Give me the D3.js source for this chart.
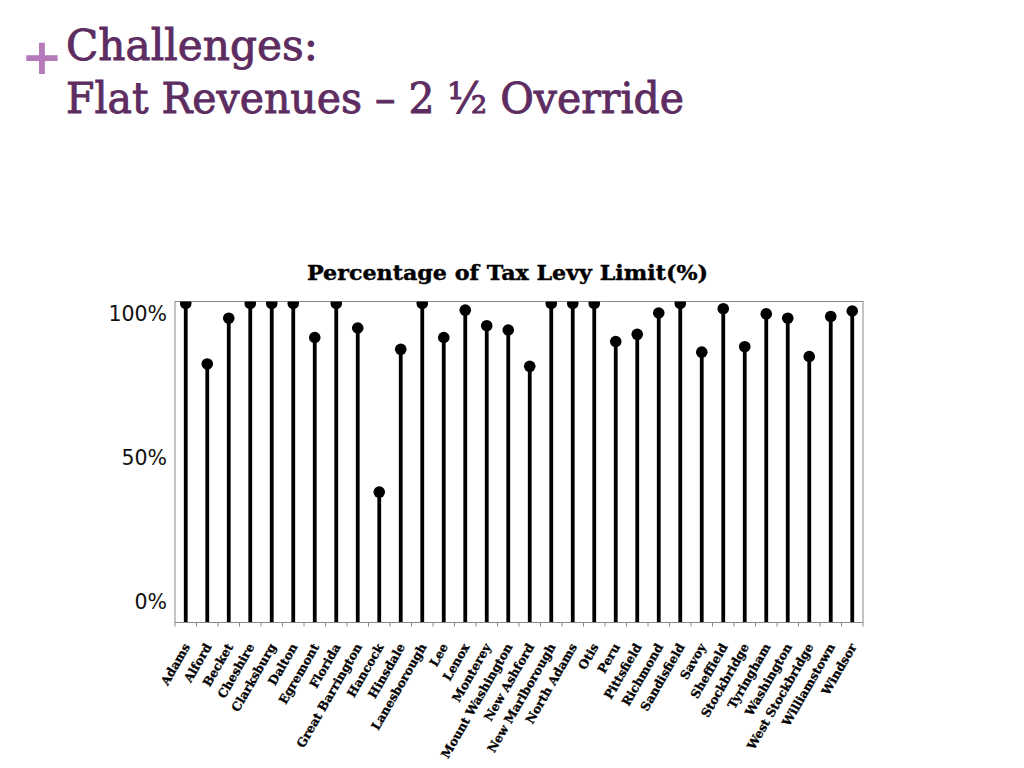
<!DOCTYPE html>
<html>
<head>
<meta charset="utf-8">
<script src="https://cdn.jsdelivr.net/npm/d3@7"></script>
<style>
  html, body { margin: 0; padding: 0; background: #ffffff; }
  svg { display: block; }
</style>
</head>
<body>
<svg id="chart" width="1024" height="768"></svg>
<script>
// ---- data ----
const towns = ["Adams","Alford","Becket","Cheshire","Clarksburg","Dalton","Egremont","Florida",
  "Great Barrington","Hancock","Hinsdale","Lanesborough","Lee","Lenox","Monterey","Mount Washington",
  "New Ashford","New Marlborough","North Adams","Otis","Peru","Pittsfield","Richmond","Sandisfield",
  "Savoy","Sheffield","Stockbridge","Tyringham","Washington","West Stockbridge","Williamstown","Windsor"];
const levyPct = [1.036, 0.826, 0.985, 1.036, 1.036, 1.036, 0.918, 1.036,
  0.951, 0.381, 0.877, 1.036, 0.918, 1.013, 0.959, 0.944,
  0.818, 1.036, 1.036, 1.036, 0.904, 0.929, 1.003, 1.036,
  0.867, 1.018, 0.886, 1.000, 0.985, 0.852, 0.991, 1.010];
const yTicks = [0, 0.5, 1];
const chartTitle = "Percentage of Tax Levy Limit(%)";
const slideTitle1 = "Challenges:";
const slideTitle2 = "Flat Revenues \u2013 2 \u00BD  Override";

(function () {
const svg = d3.select("#chart");

// slide title
svg.append("text").text("+")
  .attr("x", 42).attr("y", 74)
  .attr("text-anchor", "middle")
  .attr("font-family", "DejaVu Sans").attr("font-weight", "bold")
  .attr("font-size", 50).attr("fill", "#b57ab9");
svg.append("text").text(slideTitle1)
  .attr("x", 66).attr("y", 60)
  .attr("font-family", "DejaVu Serif").attr("font-size", 42)
  .attr("textLength", 252).attr("lengthAdjust", "spacingAndGlyphs")
  .attr("fill", "#5d2c61").attr("stroke", "#5d2c61").attr("stroke-width", 0.9);
svg.append("text").text(slideTitle2)
  .attr("x", 66).attr("y", 113)
  .attr("font-family", "DejaVu Serif").attr("font-size", 42)
  .attr("textLength", 618).attr("lengthAdjust", "spacingAndGlyphs")
  .attr("fill", "#5d2c61").attr("stroke", "#5d2c61").attr("stroke-width", 0.9);

// plot area
const pLeft = 175, pRight = 863, pTop = 301.5, pBottom = 622.5;

const x = d3.scaleBand().domain(towns).range([pLeft, pRight]).padding(0);
const y = d3.scaleLinear().domain([-0.072, 1.043]).range([pBottom, pTop]);

svg.append("text").text(chartTitle)
  .attr("x", 307).attr("y", 280)
  .attr("font-family", "DejaVu Serif").attr("font-weight", "bold")
  .attr("font-size", 20.5).attr("fill", "#000")
  .attr("textLength", 401).attr("lengthAdjust", "spacingAndGlyphs")
  .attr("stroke", "#000").attr("stroke-width", 0.4);

svg.append("defs").append("clipPath").attr("id", "plotclip")
  .append("rect").attr("x", pLeft).attr("y", pTop).attr("width", pRight - pLeft).attr("height", pBottom - pTop);

// frame
svg.append("rect").attr("x", pLeft).attr("y", pTop)
  .attr("width", pRight - pLeft).attr("height", pBottom - pTop)
  .attr("fill", "none").attr("stroke", "#8a8a8a").attr("stroke-width", 1);

const g = svg.append("g").attr("clip-path", "url(#plotclip)");
const data = towns.map((t, i) => ({ t, v: levyPct[i] }));

g.selectAll("line.stem").data(data).join("line")
  .attr("class", "stem")
  .attr("x1", d => x(d.t) + x.bandwidth() / 2)
  .attr("x2", d => x(d.t) + x.bandwidth() / 2)
  .attr("y1", pBottom)
  .attr("y2", d => y(d.v))
  .attr("stroke", "#000").attr("stroke-width", 3.8);

g.selectAll("circle.dot").data(data).join("circle")
  .attr("class", "dot")
  .attr("cx", d => x(d.t) + x.bandwidth() / 2)
  .attr("cy", d => y(d.v))
  .attr("r", 5.8).attr("fill", "#000");

// x axis: ticks at band boundaries
const xAxis = svg.append("g").attr("transform", `translate(0,${pBottom})`);
xAxis.append("line").attr("x1", pLeft).attr("x2", pRight).attr("y1", 0).attr("y2", 0)
  .attr("stroke", "#8a8a8a");
const bounds = towns.map(t => x(t)).concat([pRight]);
xAxis.selectAll("line.tk").data(bounds).join("line")
  .attr("class", "tk")
  .attr("x1", d => d).attr("x2", d => d).attr("y1", 0).attr("y2", 4)
  .attr("stroke", "#8a8a8a");
xAxis.selectAll("text").data(towns).join("text")
  .attr("transform", d => `translate(${x(d) + x.bandwidth() / 2 + 1},${22}) rotate(-60)`)
  .attr("text-anchor", "end")
  .attr("dy", "0.35em")
  .attr("font-family", "DejaVu Serif").attr("font-weight", "bold")
  .attr("font-size", 12.2).attr("fill", "#000")
  .attr("stroke", "#000").attr("stroke-width", 0.3)
  .text(d => d);

// y axis labels
const yAxis = d3.axisLeft(y).tickValues(yTicks).tickFormat(d3.format(".0%")).tickSize(0).tickPadding(8);
const ya = svg.append("g").attr("transform", `translate(${pLeft},0)`).call(yAxis);
ya.select(".domain").remove();
ya.selectAll("text").attr("font-family", "DejaVu Sans").attr("font-size", 20.5).attr("fill", "#111");
})();
</script>
</body>
</html>
